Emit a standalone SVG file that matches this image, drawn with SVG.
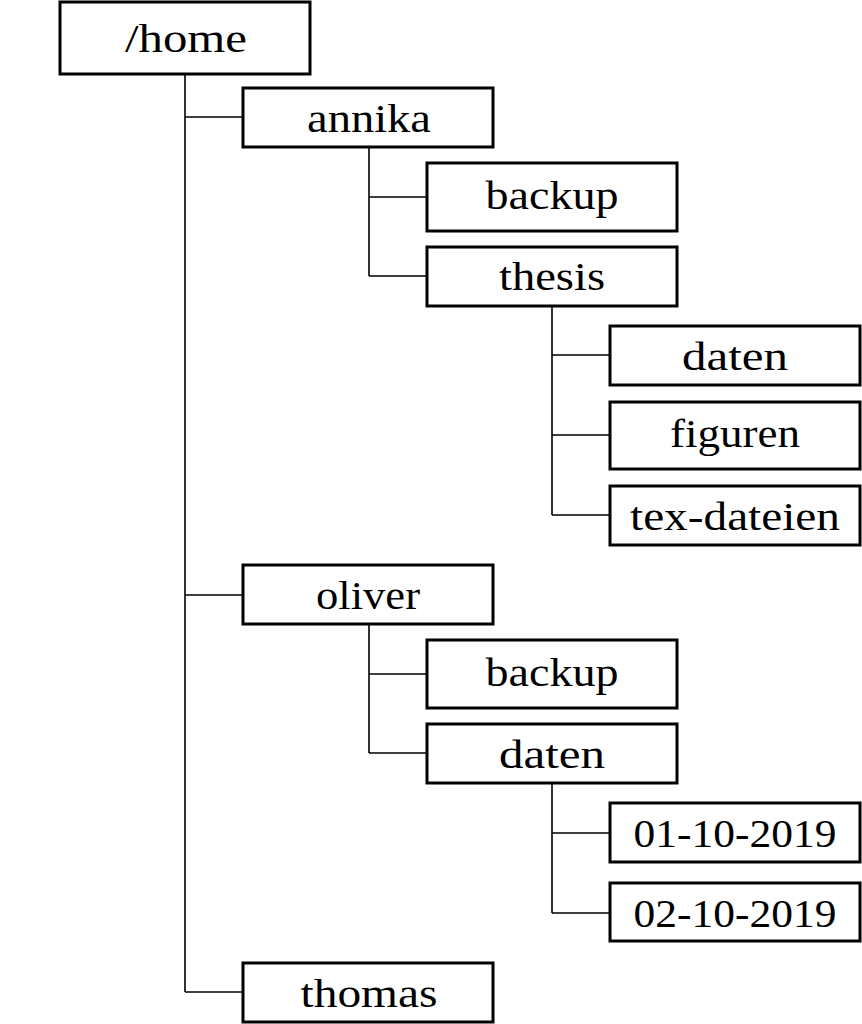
<svg xmlns="http://www.w3.org/2000/svg" width="862" height="1024" viewBox="0 0 862 1024">
<style>
.n rect{fill:#fff;stroke:#000;stroke-width:3}
.n text{font-size:41px;text-anchor:middle;fill:#000}
#edges path{fill:none;stroke:#000;stroke-width:1.6}
</style>
<rect width="862" height="1024" fill="#fff"/>
<g id="edges">
<path d="M185,74V992M185,117H243M185,595H243M185,992H243"/>
<path d="M369,147V276M369,197H427M369,276H427"/>
<path d="M552,306V515M552,355H610M552,435H610M552,515H610"/>
<path d="M369,624V753M369,674H427M369,753H427"/>
<path d="M552,783V913M552,833H610M552,913H610"/>
</g>
<g font-family="'Liberation Serif', 'DejaVu Serif', 'Times New Roman', serif">
<g id="home" class="n"><rect x="60" y="2" width="250" height="72"/><text x="186" y="52" textLength="122" lengthAdjust="spacingAndGlyphs">/home</text></g>
<g id="annika" class="n"><rect x="243" y="88" width="250" height="59"/><text x="369" y="132" textLength="124" lengthAdjust="spacingAndGlyphs">annika</text></g>
<g id="annika-backup" class="n"><rect x="427" y="163" width="250" height="68"/><text x="552" y="209" textLength="133" lengthAdjust="spacingAndGlyphs">backup</text></g>
<g id="thesis" class="n"><rect x="427" y="247" width="250" height="59"/><text x="552" y="290" textLength="106" lengthAdjust="spacingAndGlyphs">thesis</text></g>
<g id="thesis-daten" class="n"><rect x="610" y="326" width="250" height="59"/><text x="735" y="370" textLength="106" lengthAdjust="spacingAndGlyphs">daten</text></g>
<g id="figuren" class="n"><rect x="610" y="402" width="250" height="67"/><text x="735" y="447" textLength="130" lengthAdjust="spacingAndGlyphs">figuren</text></g>
<g id="tex-dateien" class="n"><rect x="610" y="486" width="250" height="59"/><text x="735" y="530" textLength="210" lengthAdjust="spacingAndGlyphs">tex-dateien</text></g>
<g id="oliver" class="n"><rect x="243" y="565" width="250" height="59"/><text x="368" y="609" textLength="104" lengthAdjust="spacingAndGlyphs">oliver</text></g>
<g id="oliver-backup" class="n"><rect x="427" y="640" width="250" height="68"/><text x="552" y="686" textLength="133" lengthAdjust="spacingAndGlyphs">backup</text></g>
<g id="oliver-daten" class="n"><rect x="427" y="724" width="250" height="59"/><text x="552" y="768" textLength="106" lengthAdjust="spacingAndGlyphs">daten</text></g>
<g id="d01" class="n"><rect x="610" y="803" width="250" height="59"/><text x="735" y="847" textLength="203" lengthAdjust="spacingAndGlyphs">01-10-2019</text></g>
<g id="d02" class="n"><rect x="610" y="883" width="250" height="58"/><text x="735" y="927" textLength="203" lengthAdjust="spacingAndGlyphs">02-10-2019</text></g>
<g id="thomas" class="n"><rect x="243" y="963" width="250" height="59"/><text x="369" y="1007" textLength="137" lengthAdjust="spacingAndGlyphs">thomas</text></g>
</g>
</svg>
